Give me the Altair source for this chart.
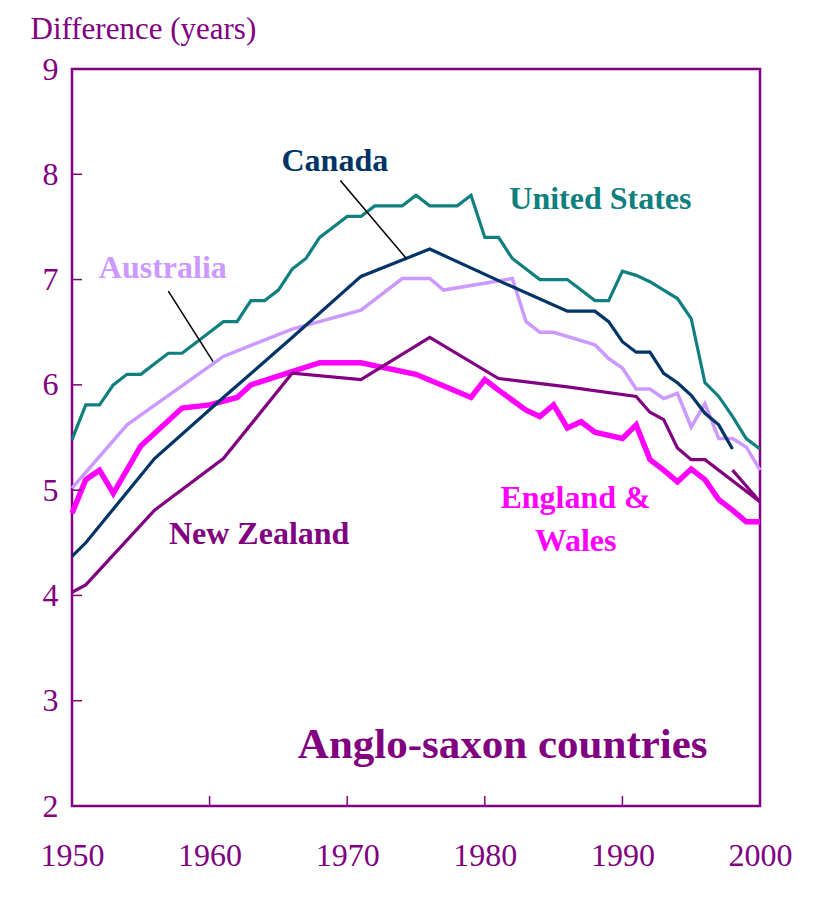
import altair as alt
import pandas as pd

# ---------------- data ----------------
us_years = list(range(1950, 2001))
us_vals = [5.48, 5.81, 5.81, 6.0, 6.1, 6.1, 6.2, 6.3, 6.3, 6.4,
           6.5, 6.6, 6.6, 6.8, 6.8, 6.9, 7.1, 7.2, 7.4, 7.5,
           7.6, 7.6, 7.7, 7.7, 7.7, 7.8, 7.7, 7.7, 7.7, 7.8,
           7.4, 7.4, 7.2, 7.1, 7.0, 7.0, 7.0, 6.9, 6.8, 6.8,
           7.08, 7.04, 6.98, 6.9, 6.82, 6.63, 6.02, 5.89, 5.7, 5.49,
           5.39]

ca_years = [1950, 1951, 1956, 1961, 1966, 1971, 1976, 1981, 1986, 1987, 1988,
            1989, 1990, 1991, 1992, 1993, 1994, 1995, 1996, 1997, 1998]
ca_vals = [4.37, 4.5, 5.3, 5.88, 6.45, 7.03, 7.29, 6.99, 6.7, 6.7, 6.7,
           6.6, 6.41, 6.31, 6.31, 6.11, 6.02, 5.9, 5.73, 5.62, 5.39]

au_years = [1950, 1954, 1961, 1966, 1971, 1974, 1976, 1977, 1982, 1983, 1984,
            1985, 1988, 1989, 1990, 1991, 1992, 1993, 1994, 1995, 1996, 1997,
            1998, 1999, 2000]
au_vals = [5.02, 5.62, 6.27, 6.53, 6.71, 7.01, 7.01, 6.9, 7.01, 6.6, 6.5,
           6.5, 6.38, 6.25, 6.16, 5.96, 5.96, 5.87, 5.92, 5.6, 5.82, 5.49,
           5.49, 5.41, 5.19]

ew_years = [1950, 1951, 1952, 1953, 1955, 1958, 1960, 1962, 1963, 1968, 1971,
            1975, 1979, 1980, 1981, 1983, 1984, 1985, 1986, 1987, 1988, 1990,
            1991, 1992, 1993, 1994, 1995, 1996, 1997, 1998, 1999, 2000]
ew_vals = [4.78, 5.1, 5.19, 4.97, 5.42, 5.78, 5.81, 5.88, 6.0, 6.21, 6.21,
           6.1, 5.88, 6.05, 5.95, 5.76, 5.7, 5.81, 5.59, 5.65, 5.55, 5.49,
           5.62, 5.29, 5.19, 5.08, 5.2, 5.1, 4.91, 4.81, 4.7, 4.7]

nz_years = [1950, 1951, 1956, 1961, 1966, 1971, 1976, 1981, 1986, 1991, 1992,
            1993, 1994, 1995, 1996, 2000]
nz_vals = [4.03, 4.1, 4.81, 5.3, 6.11, 6.05, 6.45, 6.06, 5.98, 5.89, 5.74,
           5.67, 5.4, 5.29, 5.29, 4.89]

nz2_years = [1998, 2000]
nz2_vals = [5.19, 4.89]

series = [
    ("England & Wales", ew_years, ew_vals, "#FF00FF", 5.5),
    ("New Zealand", nz_years, nz_vals, "#800080", 3.2),
    ("New Zealand (new series)", nz2_years, nz2_vals, "#800080", 3.2),
    ("Australia", au_years, au_vals, "#CC99FF", 3.5),
    ("Canada", ca_years, ca_vals, "#003366", 3.2),
    ("United States", us_years, us_vals, "#0F7F7F", 3.2),
]

# labels placed in data coordinates
labels = ["Canada", "United States", "Australia", "New Zealand", "England &", "Wales"]
label_x = [1969.1, 1988.4, 1956.6, 1963.6, 1986.6, 1986.6]
label_y = [8.13, 7.77, 7.11, 4.58, 4.93, 4.52]
label_colors = ["#003366", "#0F7F7F", "#CC99FF", "#800080", "#FF00FF", "#FF00FF"]

leader_x1 = [1969.5, 1957.0]
leader_y1 = [7.94, 6.89]
leader_x2 = [1974.3, 1960.25]
leader_y2 = [7.2, 6.22]

y_ticks = [3, 4, 5, 6, 7, 8]
x_ticks = [1960, 1970, 1980, 1990]

PURPLE = "#800080"
FONT = "Liberation Serif"
W, H = 688, 737

xscale = alt.Scale(domain=[1950, 2000], nice=False, zero=False)
yscale = alt.Scale(domain=[2, 9], nice=False, zero=False)

xaxis = alt.Axis(values=[1950, 1960, 1970, 1980, 1990, 2000], format="d",
                 labelPadding=34, labelFlush=False, title=None)
yaxis = alt.Axis(values=[2, 3, 4, 5, 6, 7, 8, 9], labelPadding=14, labelFlush=False,
                 title="Difference (years)", titleAngle=0, titleX=-42, titleY=-31,
                 titleAlign="left", titleBaseline="alphabetic", titleFontSize=31,
                 titleFontWeight="normal", titleFont=FONT, titleColor=PURPLE)


def X(field):
    return alt.X(field, scale=xscale, axis=xaxis)


def Y(field):
    return alt.Y(field, scale=yscale, axis=yaxis)


layers = []
for name, yrs, vals, col, sw in series:
    df = pd.DataFrame({"year": yrs, "value": vals, "series": name})
    layers.append(alt.Chart(df).mark_line(color=col, strokeWidth=sw,
                                          strokeJoin="miter").encode(
        x=X("year:Q"), y=Y("value:Q")))

ytick_df = pd.DataFrame({"v": y_ticks})
layers.append(alt.Chart(ytick_df).mark_rule(color=PURPLE, strokeWidth=1.5).encode(
    y=Y("v:Q"), x=alt.value(0), x2=alt.value(10)))
xtick_df = pd.DataFrame({"yr": x_ticks})
layers.append(alt.Chart(xtick_df).mark_rule(color=PURPLE, strokeWidth=1.5).encode(
    x=X("yr:Q"), y=alt.value(H), y2=alt.value(H - 10)))

lead_df = pd.DataFrame({"x1": leader_x1, "y1": leader_y1, "x2": leader_x2, "y2": leader_y2})
layers.append(alt.Chart(lead_df).mark_rule(color="black", strokeWidth=1.5).encode(
    x=X("x1:Q"), y=Y("y1:Q"), x2="x2:Q", y2="y2:Q"))

lab_df = pd.DataFrame({"t": labels, "x": label_x, "y": label_y, "c": label_colors})
layers.append(alt.Chart(lab_df).mark_text(font=FONT, fontSize=32, fontWeight="bold",
                                          align="center", baseline="middle").encode(
    x=X("x:Q"), y=Y("y:Q"), text="t:N", color=alt.Color("c:N", scale=None)))

title_df = pd.DataFrame({"t": ["Anglo-saxon countries"], "x": [1981.3], "y": [2.58]})
layers.append(alt.Chart(title_df).mark_text(font=FONT, fontSize=43, fontWeight="bold",
                                            color=PURPLE, align="center",
                                            baseline="middle").encode(
    x=X("x:Q"), y=Y("y:Q"), text="t:N"))

chart = alt.layer(*layers).properties(
    width=W, height=H,
    autosize=alt.AutoSizeParams(type="none"),
    padding={"left": 64, "top": 61, "right": 40, "bottom": 80},
).configure_view(stroke=PURPLE, strokeWidth=2.5).configure_axis(
    domain=False, ticks=False, grid=False, labelFont=FONT, labelFontSize=32,
    labelColor=PURPLE,
)

chart.save("out.html", embed_options={"renderer": "svg", "actions": False})
